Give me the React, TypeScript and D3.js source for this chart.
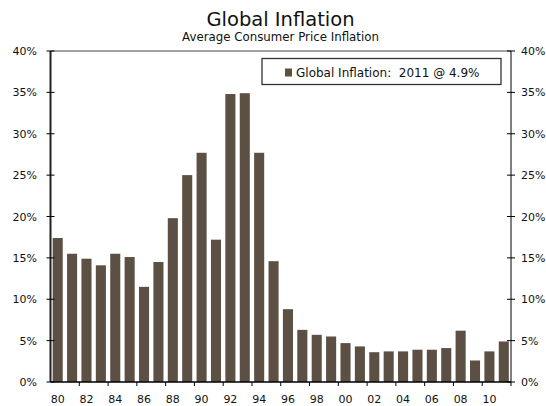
import React from "react";
import * as d3 from "d3";

const years = [
  1980, 1981, 1982, 1983, 1984, 1985, 1986, 1987, 1988, 1989, 1990, 1991,
  1992, 1993, 1994, 1995, 1996, 1997, 1998, 1999, 2000, 2001, 2002, 2003,
  2004, 2005, 2006, 2007, 2008, 2009, 2010, 2011,
];
const inflation = [
  17.4, 15.5, 14.9, 14.1, 15.5, 15.1, 11.5, 14.5, 19.8, 25.0, 27.7, 17.2,
  34.8, 34.9, 27.7, 14.6, 8.8, 6.3, 5.7, 5.5, 4.7, 4.3, 3.6, 3.7,
  3.7, 3.9, 3.9, 4.1, 6.2, 2.6, 3.7, 4.9,
];
const yTicks = [0, 5, 10, 15, 20, 25, 30, 35, 40];
const xLabelYears = years.filter((y) => y % 2 === 0);

const W = 546;
const H = 406;
const left = 50.5;
const right = 511;
const top = 51;
const bottom = 382;
const barColor = "#5c5044";
const font = "'DejaVu Sans', Verdana, sans-serif";

export default function App() {
  const x = d3
    .scaleBand<number>()
    .domain(years)
    .range([left, right])
    .paddingInner(0.3)
    .paddingOuter(0.15);
  const xb = d3.scaleBand<number>().domain(years).range([left, right]);
  const y = d3.scaleLinear().domain([0, 40]).range([bottom, top]);
  const fmt = (v: number) => `${v}%`;

  return (
    <svg
      width={W}
      height={H}
      style={{ position: "absolute", left: 0, top: 0, background: "#fff" }}
      fontFamily={font}
    >
      <text x={280.5} y={26} textAnchor="middle" fontSize={19.5} fill="#111">
        Global Inflation
      </text>
      <text x={280.5} y={41} textAnchor="middle" fontSize={11.8} fill="#111">
        Average Consumer Price Inflation
      </text>

      {years.map((yr, i) => (
        <rect
          key={yr}
          x={x(yr)}
          y={y(inflation[i])}
          width={x.bandwidth()}
          height={bottom - y(inflation[i])}
          fill={barColor}
        />
      ))}

      {/* frame */}
      <line x1={left} x2={right} y1={top} y2={top} stroke="#444" strokeWidth={1} />
      <line x1={left} x2={right} y1={bottom} y2={bottom} stroke="#000" strokeWidth={1.3} />
      <line x1={left} x2={left} y1={top} y2={bottom} stroke="#222" strokeWidth={2} />
      <line x1={right} x2={right} y1={top} y2={bottom} stroke="#000" strokeWidth={1} />

      {yTicks.map((t) => (
        <g key={t}>
          <line x1={left - 4} x2={left + 4} y1={y(t)} y2={y(t)} stroke="#000" />
          <line x1={right - 4} x2={right + 4} y1={y(t)} y2={y(t)} stroke="#000" />
          <text x={37} y={y(t) + 4} textAnchor="end" fontSize={11} fill="#111">
            {fmt(t)}
          </text>
          <text x={521} y={y(t) + 4} textAnchor="start" fontSize={11} fill="#111">
            {fmt(t)}
          </text>
        </g>
      ))}

      {xLabelYears.map((yr) => (
        <g key={yr}>
          {yr !== 1980 && (
            <line
              x1={xb(yr)!}
              x2={xb(yr)!}
              y1={bottom}
              y2={bottom + 4}
              stroke="#000"
            />
          )}
          <text
            x={xb(yr)! + xb.bandwidth() / 2}
            y={403}
            textAnchor="middle"
            fontSize={11}
            fill="#111"
          >
            {String(yr).slice(2)}
          </text>
        </g>
      ))}
      <line x1={right} x2={right} y1={bottom} y2={bottom + 4} stroke="#000" />

      {/* legend */}
      <rect x={262} y={58.5} width={239} height={26} fill="#fff" stroke="#333" strokeWidth={1.3} />
      <rect x={285} y={68.5} width={7} height={8} fill={barColor} />
      <text x={296} y={77} fontSize={12} fill="#111" style={{ whiteSpace: "pre" }}>
        {"Global Inflation:  2011 @ 4.9%"}
      </text>
    </svg>
  );
}
